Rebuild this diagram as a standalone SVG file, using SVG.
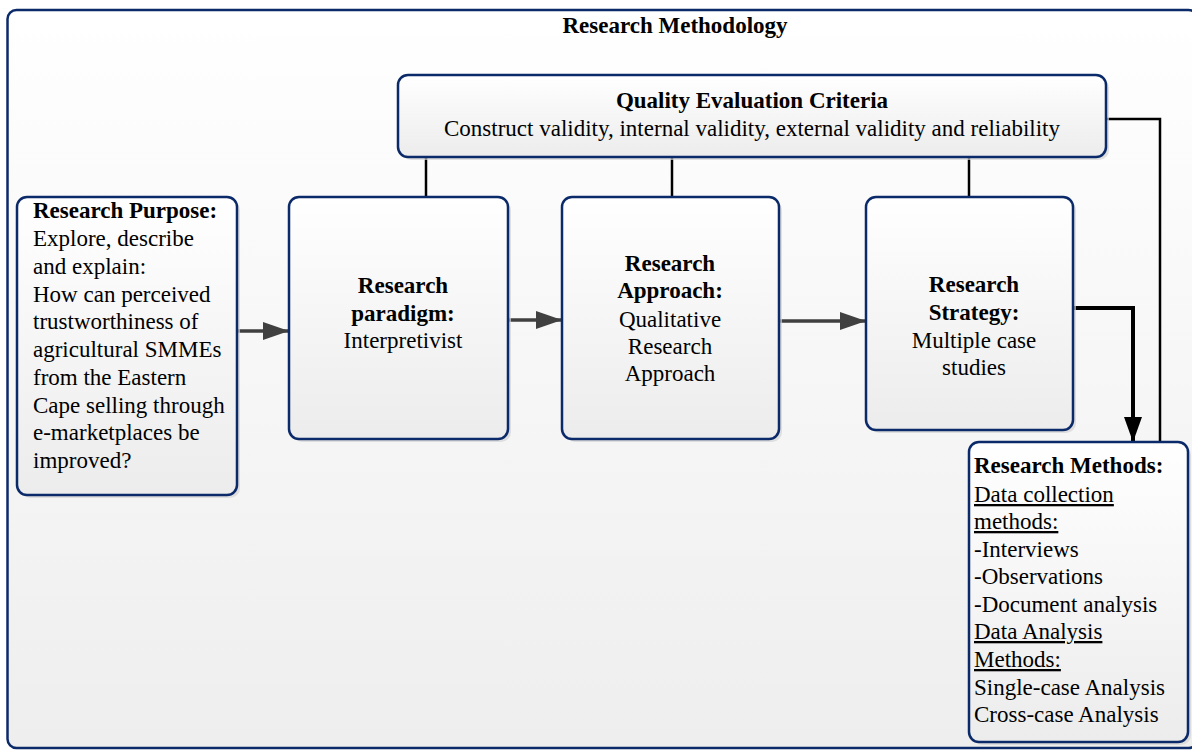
<svg xmlns="http://www.w3.org/2000/svg" width="1192" height="752" viewBox="0 0 1192 752">
  <defs>
    <linearGradient id="frameFill" x1="0" y1="0" x2="0" y2="1">
      <stop offset="0" stop-color="#ffffff"/>
      <stop offset="1" stop-color="#eeeeee"/>
    </linearGradient>
    <linearGradient id="boxFill" x1="0" y1="0" x2="0" y2="1">
      <stop offset="0" stop-color="#ffffff"/>
      <stop offset="1" stop-color="#ececec"/>
    </linearGradient>
    <marker id="greyHead" markerUnits="userSpaceOnUse" markerWidth="26" markerHeight="18" refX="26" refY="9" orient="auto">
      <path d="M0,0 L26,9 L0,18 z" fill="#404040"/>
    </marker>
    <marker id="blackHead" markerUnits="userSpaceOnUse" markerWidth="25" markerHeight="18" refX="25" refY="9" orient="auto">
      <path d="M0,0 L25,9 L0,18 z" fill="#000000"/>
    </marker>
  </defs>
  <style>
    .frame { fill: url(#frameFill); stroke: #0b2a6a; stroke-width: 2.5; }
    .box { fill: url(#boxFill); stroke: #0b2a6a; stroke-width: 2.5; }
    .shadow { fill: #d4d4d4; opacity: 0.7; }
    text { font-family: "Liberation Serif", "Times New Roman", serif; font-size: 23px; fill: #000000; }
    .b { font-weight: bold; }
    .c { text-anchor: middle; }
    .u { text-decoration: underline; }
    .grey { fill: none; stroke: #404040; stroke-width: 3.5; marker-end: url(#greyHead); }
    .tie { fill: none; stroke: #000000; stroke-width: 2.5; }
    .down { fill: none; stroke: #000000; stroke-width: 4; marker-end: url(#blackHead); }
  </style>

  <!-- enclosing frame -->
  <g id="frame">
    <rect class="frame" x="7.5" y="10" width="1190" height="738" rx="9"/>
    <text class="b c" x="675" y="33">Research Methodology</text>
  </g>

  <!-- connectors -->
  <g id="connectors">
    <path class="tie" d="M426,157 V197"/>
    <path class="tie" d="M672,157 V197"/>
    <path class="tie" d="M969,157 V197"/>
    <path class="tie" d="M1106,119 H1160 V442"/>
    <path class="grey" d="M237,331 H289"/>
    <path class="grey" d="M508,320 H562"/>
    <path class="grey" d="M779,321 H866"/>
    <path class="down" d="M1073,308 H1133 V442"/>
  </g>

  <g id="quality">
    <rect class="shadow" x="401" y="78" width="708" height="82" rx="10"/>
    <rect class="box" x="398" y="75" width="708" height="82" rx="10"/>
    <text class="b c" x="752" y="108">Quality Evaluation Criteria</text>
    <text class="c" x="752" y="136">Construct validity, internal validity, external validity and reliability</text>
  </g>

  <g id="purpose">
    <rect class="shadow" x="20" y="200" width="220" height="298" rx="10"/>
    <rect class="box" x="17" y="197" width="220" height="298" rx="10"/>
    <text x="33" y="218" class="b">Research Purpose:</text>
    <text x="33" y="246">Explore, describe</text>
    <text x="33" y="274">and explain:</text>
    <text x="33" y="302">How can perceived</text>
    <text x="33" y="329">trustworthiness of</text>
    <text x="33" y="357">agricultural SMMEs</text>
    <text x="33" y="385">from the Eastern</text>
    <text x="33" y="413">Cape selling through</text>
    <text x="33" y="440">e-marketplaces be</text>
    <text x="33" y="468">improved?</text>
  </g>

  <g id="paradigm">
    <rect class="shadow" x="292" y="200" width="219" height="242" rx="10"/>
    <rect class="box" x="289" y="197" width="219" height="242" rx="10"/>
    <text class="b c" x="403" y="293">Research</text>
    <text class="b c" x="403" y="321">paradigm:</text>
    <text class="c" x="403" y="348">Interpretivist</text>
  </g>

  <g id="approach">
    <rect class="shadow" x="565" y="200" width="217" height="242" rx="10"/>
    <rect class="box" x="562" y="197" width="217" height="242" rx="10"/>
    <text class="b c" x="670" y="271">Research</text>
    <text class="b c" x="670" y="298">Approach:</text>
    <text class="c" x="670" y="327">Qualitative</text>
    <text class="c" x="670" y="354">Research</text>
    <text class="c" x="670" y="381">Approach</text>
  </g>

  <g id="strategy">
    <rect class="shadow" x="869" y="200" width="207" height="233" rx="10"/>
    <rect class="box" x="866" y="197" width="207" height="233" rx="10"/>
    <text class="b c" x="974" y="292">Research</text>
    <text class="b c" x="974" y="320">Strategy:</text>
    <text class="c" x="974" y="348">Multiple case</text>
    <text class="c" x="974" y="375">studies</text>
  </g>

  <g id="methods">
    <rect class="shadow" x="972" y="445" width="219" height="300" rx="10"/>
    <rect class="box" x="969" y="442" width="219" height="300" rx="10"/>
    <text x="974" y="473" class="b">Research Methods:</text>
    <text x="974" y="502" class="u">Data collection</text>
    <text x="974" y="529" class="u">methods:</text>
    <text x="974" y="557">-Interviews</text>
    <text x="974" y="584">-Observations</text>
    <text x="974" y="612">-Document analysis</text>
    <text x="974" y="639" class="u">Data Analysis</text>
    <text x="974" y="667" class="u">Methods:</text>
    <text x="974" y="695">Single-case Analysis</text>
    <text x="974" y="722">Cross-case Analysis</text>
  </g>
</svg>
